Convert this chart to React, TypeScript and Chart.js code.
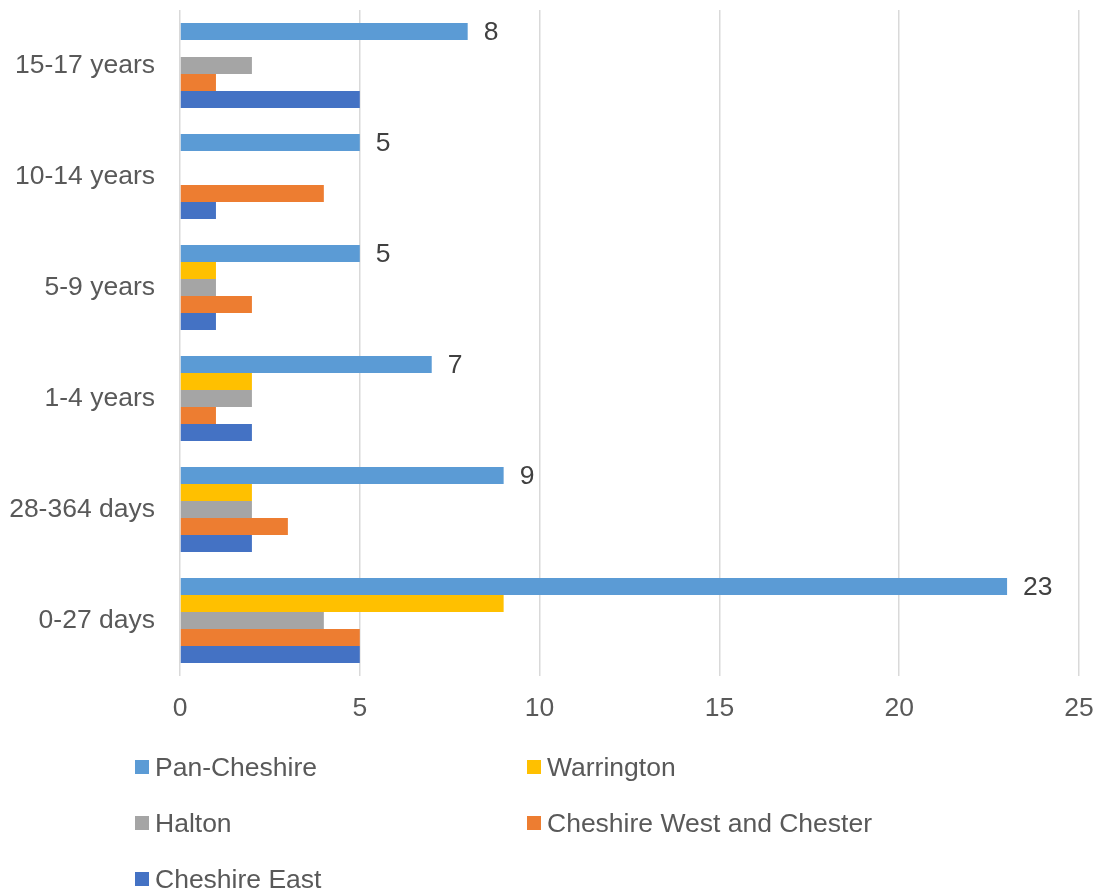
import React, { useEffect, useRef } from 'react';
import { Chart, registerables } from 'chart.js';
Chart.register(...registerables);

const FONT = '"Liberation Sans", Arial, Helvetica, sans-serif';
const FS = 26.5;

const categories = ['15-17 years', '10-14 years', '5-9 years', '1-4 years', '28-364 days', '0-27 days'];
const seriesNames = ['Pan-Cheshire', 'Warrington', 'Halton', 'Cheshire West and Chester', 'Cheshire East'];
const seriesColors = ['#5B9BD5', '#FFC000', '#A5A5A5', '#ED7D31', '#4472C4'];
const panCheshire = [8, 5, 5, 7, 9, 23];
const warrington = [0, 0, 1, 2, 2, 9];
const halton = [2, 0, 1, 2, 2, 4];
const cheshireWest = [1, 4, 2, 1, 3, 5];
const cheshireEast = [5, 1, 1, 2, 2, 5];
const seriesValues = [panCheshire, warrington, halton, cheshireWest, cheshireEast];
const xTicks = [0, 5, 10, 15, 20, 25];

const labelPlugin = {
  id: 'panLabels',
  afterDatasetsDraw(chart: any) {
    const ctx = chart.ctx;
    const meta = chart.getDatasetMeta(0);
    ctx.save();
    ctx.font = `${FS}px ${FONT}`;
    ctx.fillStyle = '#404040';
    ctx.textAlign = 'left';
    ctx.textBaseline = 'middle';
    meta.data.forEach((el: any, i: number) => {
      ctx.fillText(String(panCheshire[i]), el.x + 16, el.y + 1);
    });
    ctx.restore();
  },
};

export default function App() {
  const ref = useRef<HTMLCanvasElement>(null);
  useEffect(() => {
    const chart = new Chart(ref.current!, {
      type: 'bar',
      data: {
        labels: categories,
        datasets: seriesNames.map((n, i) => ({
          label: n,
          data: seriesValues[i],
          backgroundColor: seriesColors[i],
          borderWidth: 0,
          categoryPercentage: 0.766,
          barPercentage: 1,
        })),
      },
      options: {
        indexAxis: 'y',
        animation: false,
        responsive: false,
        maintainAspectRatio: false,
        layout: { padding: { left: 0, right: 23, top: 10, bottom: 157 } },
        plugins: { legend: { display: false }, tooltip: { enabled: false } },
        scales: {
          x: {
            min: xTicks[0],
            max: xTicks[xTicks.length - 1],
            afterBuildTicks: (s: any) => { s.ticks = xTicks.map((v) => ({ value: v })); },
            ticks: { font: { family: FONT, size: FS }, color: '#595959', padding: 17 },
            grid: { color: '#d9d9d9', lineWidth: 1.5, drawTicks: false },
            border: { display: false },
            afterFit: (s: any) => {
              s.height = 60;
              s.paddingLeft = 0; s.paddingRight = 0; s.paddingTop = 0; s.paddingBottom = 0;
            },
          },
          y: {
            ticks: { font: { family: FONT, size: FS }, color: '#595959', padding: 25 },
            grid: { display: false, drawTicks: false },
            border: { display: false },
            afterFit: (s: any) => {
              s.width = 180;
              s.paddingLeft = 0; s.paddingRight = 0; s.paddingTop = 0; s.paddingBottom = 0;
            },
          },
        },
      } as any,
      plugins: [labelPlugin],
    });
    return () => chart.destroy();
  }, []);

  const legendPos = [
    { x: 135, y: 767 },
    { x: 527, y: 767 },
    { x: 135, y: 823 },
    { x: 527, y: 823 },
    { x: 135, y: 879 },
  ];

  return (
    <div style={{ position: 'absolute', left: 0, top: 0, width: 1102, height: 893, background: '#fff', overflow: 'hidden' }}>
      <canvas ref={ref} width={1102} height={893} style={{ display: 'block' }} />
      {seriesNames.map((n, i) => (
        <div
          key={n}
          style={{
            position: 'absolute',
            left: legendPos[i].x,
            top: legendPos[i].y - 16,
            height: 32,
            display: 'flex',
            alignItems: 'center',
            fontFamily: FONT,
            fontSize: FS,
            color: '#595959',
            whiteSpace: 'nowrap',
          }}
        >
          <span style={{ display: 'inline-block', width: 14, height: 14, background: seriesColors[i], marginRight: 6 }} />
          <span>{n}</span>
        </div>
      ))}
    </div>
  );
}
